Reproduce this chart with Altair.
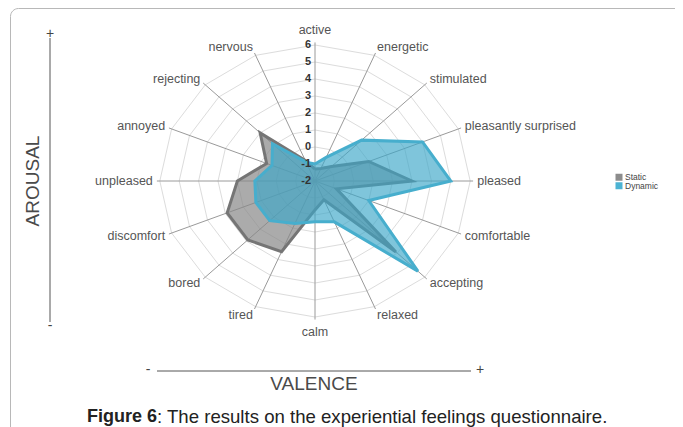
import math
import altair as alt
import pandas as pd

# ---------------- data ----------------
categories = ["active", "energetic", "stimulated", "pleasantly surprised", "pleased",
              "comfortable", "accepting", "relaxed", "calm", "tired", "bored",
              "discomfort", "unpleased", "annoyed", "rejecting", "nervous"]
static_vals = [-1.3, -1.2, -0.8, 1.0, 3.0, -0.8, 3.9, -0.8, -0.3, 2.5, 2.9, 2.9, 2.0, 0.7, 2.0, -0.7]
dynamic_vals = [-1.0, -0.5, 1.4, 4.0, 5.0, 1.0, 5.5, 0.6, 0.4, 0.7, 1.3, 1.3, 1.1, 0.4, 1.1, -0.8]
series_names = ["Static", "Dynamic"]
tick_values = [-2, -1, 0, 1, 2, 3, 4, 5, 6]
scale_min = -2
scale_max = 6

# ---------------- geometry helpers ----------------
N = len(categories)
W, H = 667, 419
CX, CY = 307, 173          # centre in plot pixels
PX_X, PX_Y = 19.4, 17.0     # pixels per scale unit (horizontal / vertical)
xdom = [-CX / PX_X, (W - CX) / PX_X]
ydom = [-(H - CY) / PX_Y, CY / PX_Y]
xs = alt.Scale(domain=xdom, range=[0, W], nice=False, zero=False)
ys = alt.Scale(domain=ydom, range=[H, 0], nice=False, zero=False)
R_OUT = scale_max - scale_min


def ang(i):
    return 2 * math.pi * (i % N) / N


# polygons
poly_rows = []
for name, vals in zip(series_names, [static_vals, dynamic_vals]):
    for i in range(N + 1):
        r = vals[i % N] - scale_min
        poly_rows.append({"series": name, "cat": categories[i % N], "order": i,
                          "x": r * math.sin(ang(i)), "y": r * math.cos(ang(i))})
poly = pd.DataFrame(poly_rows)

# rings
ring_rows = []
for lv in tick_values[1:]:
    r = lv - scale_min
    for i in range(N + 1):
        ring_rows.append({"level": lv, "order": i,
                          "x": r * math.sin(ang(i)), "y": r * math.cos(ang(i))})
rings = pd.DataFrame(ring_rows)

# spokes
spokes = pd.DataFrame([{"cat": c, "x": 0.0, "y": 0.0,
                        "x2": (R_OUT + 0.15) * math.sin(ang(i)),
                        "y2": (R_OUT + 0.15) * math.cos(ang(i))}
                       for i, c in enumerate(categories)])

# tick labels
ticks = pd.DataFrame([{"label": str(t), "x": 0.0, "y": float(t - scale_min)} for t in tick_values])

# category labels
lab_rows = []
for i, c in enumerate(categories):
    s, co = math.sin(ang(i)), math.cos(ang(i))
    if abs(s) < 0.01:
        ox, oy, grp = 0.0, 15 * co / PX_Y, "center"
    else:
        ox, oy = 7 * s / PX_X, 8.5 * co / PX_Y
        grp = "left" if s > 0 else "right"
    lab_rows.append({"cat": c, "grp": grp,
                     "x": R_OUT * s + ox, "y": R_OUT * co + oy})
labs = pd.DataFrame(lab_rows)

X = lambda f="x": alt.X(f"{f}:Q", scale=xs, axis=None)
Y = lambda f="y": alt.Y(f"{f}:Q", scale=ys, axis=None)

FONT = "Liberation Sans"

ring_layer = alt.Chart(rings).mark_line(stroke="#dcdcdc", strokeWidth=1).encode(
    x=X(), y=Y(), detail="level:N", order="order:Q")

spoke_layer = alt.Chart(spokes).mark_rule(stroke="#9a9a9a", strokeWidth=1).encode(
    x=X(), y=Y(), x2="x2:Q", y2="y2:Q")

static_layer = alt.Chart(poly[poly.series == "Static"]).mark_line(
    fill="#888888", fillOpacity=0.7, stroke="#757575", strokeWidth=3, strokeJoin="miter"
).encode(x=X(), y=Y(), order="order:Q")

dynamic_layer = alt.Chart(poly[poly.series == "Dynamic"]).mark_line(
    fill="#3aa6c8", fillOpacity=0.65, stroke="#47aecd", strokeWidth=3, strokeJoin="miter"
).encode(x=X(), y=Y(), order="order:Q")

tick_layer = alt.Chart(ticks).mark_text(
    align="right", baseline="middle", dx=-4, font=FONT, fontSize=11, fontWeight="bold", color="#333333"
).encode(x=X(), y=Y(), text="label:N")

label_layers = []
for grp in ["left", "right", "center"]:
    label_layers.append(
        alt.Chart(labs[labs.grp == grp]).mark_text(
            align=grp, baseline="middle", font=FONT, fontSize=12.5, color="#555555"
        ).encode(x=X(), y=Y(), text="cat:N"))

# legend
leg = pd.DataFrame({"series": series_names, "row": [0, 1]})
leg_sq = alt.Chart(leg).mark_square(size=49, opacity=1).encode(
    x=alt.value(611), y=alt.Y("row:O", scale=alt.Scale(range=[165, 182]), axis=None),
    color=alt.Color("series:N", scale=alt.Scale(domain=series_names, range=["#8c8c8c", "#4cb3d3"]), legend=None))
leg_tx = alt.Chart(leg).mark_text(align="left", baseline="middle", font=FONT, fontSize=8.5, color="#444444").encode(
    x=alt.value(617), y=alt.Y("row:O", scale=alt.Scale(range=[165, 182]), axis=None), text="series:N")

one = pd.DataFrame({"a": [0]})
frame = alt.Chart(one).mark_rect(fill=None, stroke="#b8b8b8", strokeWidth=1, cornerRadius=8).encode(
    x=alt.value(2.5), y=alt.value(0.5), x2=alt.value(720), y2=alt.value(460))

arousal_line = alt.Chart(one).mark_rule(stroke="#555555", strokeWidth=1).encode(
    x=alt.value(42), y=alt.value(30), y2=alt.value(314))
valence_line = alt.Chart(one).mark_rule(stroke="#555555", strokeWidth=1).encode(
    x=alt.value(149), x2=alt.value(463), y=alt.value(363))


def txt(t, x, y, size, **kw):
    return alt.Chart(pd.DataFrame({"t": [t]})).mark_text(font=FONT, fontSize=size, **kw).encode(
        x=alt.value(x), y=alt.value(y), text="t:N")


decor = [
    txt("+", 42, 26, 14, color="#444444", align="center", baseline="middle"),
    txt("-", 42, 318, 14, color="#444444", align="center", baseline="middle"),
    txt("-", 140, 362, 14, color="#444444", align="center", baseline="middle"),
    txt("+", 472, 362, 14, color="#444444", align="center", baseline="middle"),
    txt("AROUSAL", 25, 173, 19, color="#4a4a4a", align="center", baseline="middle", angle=270),
    txt("VALENCE", 306, 376, 19, color="#4a4a4a", align="center", baseline="middle"),
    txt("Figure 6", 149, 409, 18, color="#222222", align="right", baseline="middle", fontWeight="bold"),
    txt(": The results on the experiential feelings questionnaire.", 149, 409, 18.6,
        color="#222222", align="left", baseline="middle"),
]

chart = alt.layer(
    frame, ring_layer, spoke_layer, static_layer, dynamic_layer, tick_layer,
    *label_layers, leg_sq, leg_tx, arousal_line, valence_line, *decor
).properties(
    width=W, height=H, padding=0, autosize=alt.AutoSizeParams(type="none")
).configure_view(stroke=None)

chart.save("out.html", embed_options={"renderer": "svg", "actions": False})
